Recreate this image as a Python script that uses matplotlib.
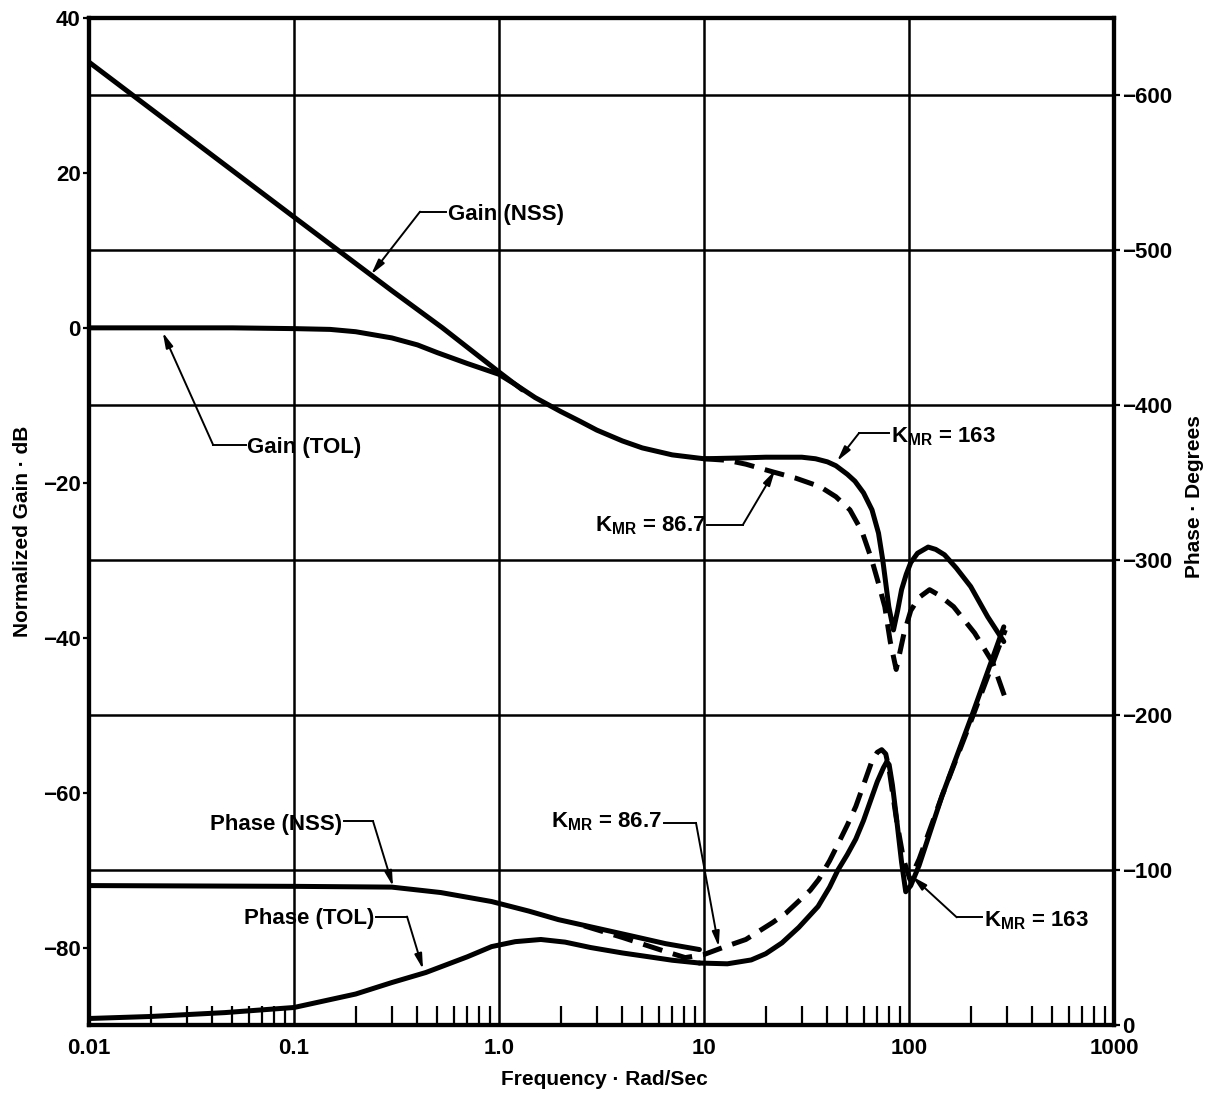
import matplotlib
matplotlib.use("Agg")
import matplotlib.pyplot as plt
from matplotlib.ticker import FixedLocator, NullFormatter

plt.rcParams["font.family"] = ["Liberation Sans", "DejaVu Sans"]
plt.rcParams["font.weight"] = "bold"
plt.rcParams["axes.labelweight"] = "bold"
plt.rcParams["mathtext.fontset"] = "custom"
plt.rcParams["mathtext.rm"] = "Liberation Sans:bold"
plt.rcParams["mathtext.it"] = "Liberation Sans:bold"
plt.rcParams["mathtext.bf"] = "Liberation Sans:bold"

# ---------------- data ----------------
gain_nss_freq = [0.01, 0.1, 0.3, 0.53, 1.0, 1.3]
gain_nss_db = [34.3, 14.3, 4.8, 0.0, -5.7, -8.0]

gain_tol_freq = [0.01, 0.05, 0.1, 0.15, 0.2, 0.3, 0.4, 0.5, 0.7, 1.0, 1.2, 1.5, 2, 2.5,
                 3, 4, 5, 7, 10]
gain_tol_db = [0, 0, -0.1, -0.2, -0.5, -1.3, -2.2, -3.2, -4.6, -6.0, -7.3, -9.0, -10.8,
               -12.1, -13.2, -14.6, -15.5, -16.4, -16.9]

gain_k163_freq = [10, 15, 20, 30, 35, 40, 44, 50, 54.5, 60, 66, 71, 74.5, 79.7, 84, 88,
                  92, 97, 102, 110, 124, 135, 149, 170, 200, 242, 290]
gain_k163_db = [-16.9, -16.8, -16.7, -16.7, -16.9, -17.3, -17.8, -18.9, -19.8, -21.3,
                -23.5, -26.5, -30, -36, -39, -36.5, -33.8, -31.8, -30.3, -29.1, -28.3,
                -28.6, -29.3, -31, -33.4, -37.3, -40.5]

gain_k867_freq = [10, 13, 16, 21.7, 28, 36.8, 44, 51.5, 59, 65.9, 71, 76.2, 81, 86.6,
                  94.6, 102, 112, 126, 140, 165, 209, 256, 293]
gain_k867_db = [-16.9, -17.1, -17.6, -18.6, -19.4, -20.5, -21.8, -23.5, -26.3, -30, -33,
                -36, -40.5, -44.1, -39.4, -36.5, -34.8, -33.8, -34.5, -36, -39.4, -43.2, -47.6]

phase_nss_freq = [0.01, 0.1, 0.3, 0.52, 0.92, 1.4, 1.95, 3.0, 4.6, 6.5, 9.5]
phase_nss_deg = [-90, -89.5, -89, -85.5, -79.7, -73.5, -68, -62.5, -57, -52.5, -48.7]

phase_tol_freq = [0.01, 0.02, 0.046, 0.1, 0.2, 0.3, 0.44, 0.7, 0.92, 1.2, 1.6, 2.1, 2.8,
                  4.0, 5.4, 7.0, 9.5]
phase_tol_deg = [-4.2, -5.5, -8, -11.3, -20, -27.4, -33.9, -44, -50.6, -53.8, -55.2,
                 -53.5, -50, -46.5, -44, -41.8, -40]

phase_k163_freq = [9.5, 13, 17, 20, 24, 29, 36, 41, 45, 50, 55, 60, 65, 70, 75, 78, 80,
                   83, 87, 92, 96.4, 102, 112, 145, 203, 290]
phase_k163_deg = [-40, -39.5, -42, -46, -53, -63, -76.5, -89, -100, -110, -120, -132,
                  -145, -157, -166, -170, -168, -155, -133, -105, -86, -90, -103, -148,
                  -200, -257]

phase_k867_freq = [2.6, 4.0, 6.5, 8.1, 10, 12.7, 16, 21.6, 25, 29, 33, 36.3, 41, 45.4, 50,
                   55, 60, 65.8, 70, 73.6, 77, 80, 87, 94, 101, 112, 145, 203, 295]
phase_k867_deg = [-64, -56.5, -47.4, -43.5, -45.5, -50.6, -55.2, -66.1, -72, -80, -87,
                  -94, -106, -117.7, -129, -141, -155, -170, -176, -177.7, -175, -165,
                  -132, -107, -94, -107, -148, -198, -255]

x_ticks = [0.01, 0.1, 1, 10, 100, 1000]
x_tick_labels = ["0.01", "0.1", "1.0", "10", "100", "1000"]
gain_ticks = [40, 20, 0, -20, -40, -60, -80]
phase_ticks = [0, -100, -200, -300, -400, -500, -600]

# ---------------- figure ----------------
W, H = 1216, 1093
fig = plt.figure(figsize=(W / 100, H / 100), dpi=100)
L, R, T, B = 89, 1114, 18, 1025
ax = fig.add_axes([L / W, 1 - B / H, (R - L) / W, (B - T) / H])
ax2 = ax.twinx()

LW = 3.6
solid = dict(color="k", lw=LW, solid_capstyle="round", solid_joinstyle="round")
dashed = dict(color="k", lw=LW, ls=(0, (4, 2.2)), dash_joinstyle="round")
ax.plot(gain_nss_freq, gain_nss_db, **solid)
ax.plot(gain_tol_freq, gain_tol_db, **solid)
ax.plot(gain_k163_freq, gain_k163_db, **solid)
ax.plot(gain_k867_freq, gain_k867_db, **dashed)

ax2.plot(phase_nss_freq, phase_nss_deg, **solid)
ax2.plot(phase_tol_freq, phase_tol_deg, **solid)
ax2.plot(phase_k163_freq, phase_k163_deg, **solid)
ax2.plot(phase_k867_freq, phase_k867_deg, **dashed)

ax.set_xscale("log")
ax.set_xlim(0.01, 1000)
ax.set_ylim(-90, 40)
ax2.set_ylim(0, -650)

ax.xaxis.set_major_locator(FixedLocator(x_ticks))
ax.set_xticklabels(x_tick_labels)
minor = [m * d for d in [0.01, 0.1, 1, 10, 100] for m in range(2, 10)]
ax.xaxis.set_minor_locator(FixedLocator(minor))
ax.xaxis.set_minor_formatter(NullFormatter())
ax.tick_params(axis="x", which="major", length=0, pad=9, labelsize=16)
ax.tick_params(axis="x", which="minor", direction="in", length=14, width=1.6, top=False)

ax.yaxis.set_major_locator(FixedLocator(gain_ticks))
ax.yaxis.set_minor_locator(FixedLocator(list(range(-90, 41, 10))))
ax.tick_params(axis="y", which="major", length=4, width=1.6, pad=2, labelsize=16)
ax.tick_params(axis="y", which="minor", length=0)

ax2.yaxis.set_major_locator(FixedLocator(phase_ticks))
ax2.tick_params(axis="y", which="major", length=4, width=1.6, pad=2, labelsize=16)

ax.grid(True, which="major", axis="x", color="k", lw=1.8)
ax.grid(True, which="minor", axis="y", color="k", lw=1.8)

for a in (ax, ax2):
    for s in a.spines.values():
        s.set_linewidth(3.0)

ax.set_xlabel("Frequency \u00b7 Rad/Sec", fontsize=15, fontweight="bold")
ax.xaxis.set_label_coords(0.503, -0.054)
ax.xaxis.label.set_va("center")
ax.set_ylabel("Normalized Gain \u00b7 dB", fontsize=15, fontweight="bold")
ax.yaxis.set_label_coords(-0.065, 0.49)
ax.yaxis.label.set_va("center")
ax2.set_ylabel("Phase \u00b7 Degrees", fontsize=15, fontweight="bold", rotation=90)
ax2.yaxis.set_label_coords(1.079, 0.525)
ax2.yaxis.label.set_va("center")


def callout(text, text_xy, ha, start, corner, tip):
    ax.text(text_xy[0], text_xy[1], text, ha=ha, va="baseline", fontsize=16)
    ax.plot([start[0], corner[0]], [start[1], corner[1]], color="k", lw=1.4)
    ax.annotate("", xy=tip, xytext=corner,
                arrowprops=dict(arrowstyle="-|>,head_length=0.9,head_width=0.22",
                                lw=1.4, color="k", shrinkA=0, shrinkB=0))


callout("Gain (NSS)", (0.564, 13.9), "left", (0.55, 15.0), (0.412, 15.0), (0.238, 6.9))
callout("Gain (TOL)", (0.059, -16.2), "left", (0.058, -15.1), (0.0403, -15.1), (0.0229, -0.6))
callout(r"K$_{MR}$ = 163", (81.6, -14.8), "left", (80, -13.6), (57, -13.6), (44.6, -17.2))
callout(r"K$_{MR}$ = 86.7", (10.2, -26.3), "right", (10.4, -25.4), (15.5, -25.4), (22.2, -18.4))
callout("Phase (NSS)", (0.171, -64.8), "right", (0.175, -63.7), (0.243, -63.7), (0.304, -72.1))
callout("Phase (TOL)", (0.248, -76.9), "right", (0.252, -76.0), (0.356, -76.0), (0.426, -82.8))
callout(r"K$_{MR}$ = 86.7", (6.24, -64.5), "right", (6.4, -63.9), (9.14, -63.9), (11.8, -79.9))
callout(r"K$_{MR}$ = 163", (232, -77.3), "left", (228, -76.1), (171, -76.1), (103.5, -70.8))

ax.set_xlim(0.01, 1000)
ax.set_ylim(-90, 40)

fig.savefig("out.png", dpi=100)
